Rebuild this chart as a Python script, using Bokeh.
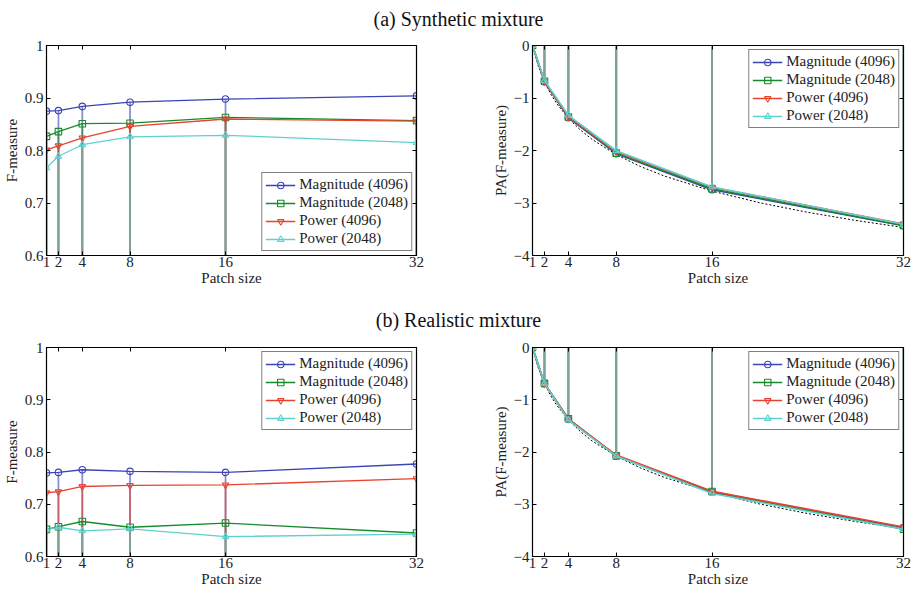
from bokeh.plotting import figure
from bokeh.layouts import column, row
from bokeh.models import (Div, FixedTicker, LinearAxis, Range1d, Legend, LegendItem)
from bokeh.embed import file_html
from bokeh.resources import INLINE

patch_sizes = [1, 2, 4, 8, 16, 32]
series_names = ["Magnitude (4096)", "Magnitude (2048)", "Power (4096)", "Power (2048)"]

# (a) Synthetic mixture
syn_f = {
    "Magnitude (4096)": [0.875, 0.876, 0.884, 0.892, 0.898, 0.904],
    "Magnitude (2048)": [0.827, 0.836, 0.851, 0.852, 0.863, 0.857],
    "Power (4096)":     [0.801, 0.809, 0.824, 0.846, 0.860, 0.856],
    "Power (2048)":     [0.767, 0.789, 0.811, 0.826, 0.829, 0.815],
}
syn_pa = {
    "Magnitude (4096)": [0.0, -0.692, -1.376, -2.060, -2.747, -3.433],
    "Magnitude (2048)": [0.0, -0.682, -1.361, -2.050, -2.730, -3.428],
    "Power (4096)":     [0.0, -0.683, -1.359, -2.025, -2.700, -3.400],
    "Power (2048)":     [0.0, -0.665, -1.330, -2.005, -2.695, -3.405],
}
# (b) Realistic mixture
real_f = {
    "Magnitude (4096)": [0.760, 0.761, 0.766, 0.763, 0.761, 0.777],
    "Magnitude (2048)": [0.652, 0.657, 0.667, 0.656, 0.664, 0.645],
    "Power (4096)":     [0.722, 0.724, 0.734, 0.736, 0.737, 0.749],
    "Power (2048)":     [0.651, 0.656, 0.649, 0.653, 0.638, 0.643],
}
real_pa = {
    "Magnitude (4096)": [0.0, -0.692, -1.378, -2.075, -2.772, -3.445],
    "Magnitude (2048)": [0.0, -0.686, -1.364, -2.075, -2.755, -3.477],
    "Power (4096)":     [0.0, -0.690, -1.370, -2.059, -2.753, -3.434],
    "Power (2048)":     [0.0, -0.686, -1.389, -2.077, -2.794, -3.477],
}
# dotted reference curve in the PA panels
ref_x = [1, 1.5, 2, 2.5, 3, 4, 5, 6, 8, 10, 12, 16, 20, 24, 28, 32]
ref_y = [0.0, -0.405, -0.693, -0.916, -1.099, -1.386, -1.609, -1.792, -2.079,
         -2.303, -2.485, -2.773, -2.996, -3.178, -3.332, -3.466]

f_ticks = [0.6, 0.7, 0.8, 0.9, 1.0]
f_labels = {0.6: "0.6", 0.7: "0.7", 0.8: "0.8", 0.9: "0.9", 1.0: "1"}
pa_ticks = [-4, -3, -2, -1, 0]
pa_labels = {-4: "\u22124", -3: "\u22123", -2: "\u22122", -1: "\u22121", 0: "0"}

colors = {
    "Magnitude (4096)": "#3b44b4",
    "Magnitude (2048)": "#178a2a",
    "Power (4096)": "#e8432e",
    "Power (2048)": "#5fd0d0",
}
markers = {
    "Magnitude (4096)": "circle",
    "Magnitude (2048)": "square",
    "Power (4096)": "inverted_triangle",
    "Power (2048)": "triangle",
}

FONT = "Liberation Serif"


def make_panel(data, yr, yticks, ylabels, ylabel, legend_loc, left_col,
               height, btop, bbot, ref=False):
    if left_col:
        w, bl, br = 458, 44, 42
    else:
        w, bl, br = 459, 74, 14
    p = figure(width=w, height=height, x_range=Range1d(1, 32), y_range=Range1d(*yr),
               output_backend="svg", toolbar_location=None,
               min_border_left=bl, min_border_right=br,
               min_border_top=btop, min_border_bottom=bbot)
    p.xgrid.visible = False
    p.ygrid.visible = False
    p.outline_line_color = "black"
    p.outline_line_width = 1.2
    p.background_fill_color = "white"

    for ax in (p.xaxis[0], p.yaxis[0]):
        ax.major_tick_in = 4
        ax.major_tick_out = 0
        ax.minor_tick_line_color = None
        ax.axis_line_color = "black"
        ax.major_tick_line_color = "black"
        ax.major_label_text_font = FONT
        ax.major_label_text_font_size = "15px"
        ax.major_label_text_color = "#222222"
        ax.axis_label_text_font = FONT
        ax.axis_label_text_font_size = "15px"
        ax.axis_label_text_font_style = "normal"
        ax.axis_label_text_color = "#222222"
    p.xaxis[0].ticker = FixedTicker(ticks=patch_sizes)
    p.xaxis[0].axis_label = "Patch size"
    p.xaxis[0].major_label_standoff = 1
    p.xaxis[0].axis_label_standoff = 0
    p.yaxis[0].ticker = FixedTicker(ticks=yticks)
    p.yaxis[0].major_label_overrides = ylabels
    p.yaxis[0].axis_label = ylabel
    p.yaxis[0].major_label_standoff = 3
    p.yaxis[0].axis_label_standoff = 2

    # mirrored tick marks on the right and top (MATLAB box style)
    for loc, ticks in (("right", yticks), ("above", patch_sizes)):
        ax = LinearAxis(ticker=FixedTicker(ticks=ticks), major_tick_in=4, major_tick_out=0,
                        minor_tick_line_color=None,
                        major_label_overrides={t: "" for t in ticks},
                        major_label_standoff=0, axis_line_color="black")
        p.add_layout(ax, loc)

    # stems (baseline 0)
    for name in series_names:
        vals = data[name]
        p.segment(x0=patch_sizes, y0=[0] * len(vals), x1=patch_sizes, y1=vals,
                  line_color=colors[name], line_alpha=0.6, line_width=1.8)

    if ref:
        p.line(ref_x, ref_y, line_color="black", line_dash="2 2", line_width=1)

    items = []
    for name in series_names:
        vals = data[name]
        lr = p.line(patch_sizes, vals, line_color=colors[name],
                    line_width=1.6 if ref else 1.3)
        sr = p.scatter(patch_sizes, vals, marker=markers[name], size=6.5,
                       line_color=colors[name], fill_color="white", fill_alpha=0,
                       line_width=1.1)
        items.append(LegendItem(label=name, renderers=[lr, sr]))

    leg = Legend(items=items, location=legend_loc,
                 border_line_color="black", border_line_width=1.5,
                 background_fill_color="white", background_fill_alpha=1,
                 label_text_font=FONT, label_text_font_size="15px",
                 label_text_color="#222222",
                 glyph_width=30, glyph_height=16, label_height=16,
                 label_standoff=4, spacing=1, padding=3, margin=4)
    p.add_layout(leg)
    return p


TOP_H, BOT_H = 270, 261
p1 = make_panel(syn_f, (0.6, 1.0), f_ticks, f_labels, "F-measure", "bottom_right",
                True, TOP_H, 15, 45)
p2 = make_panel(syn_pa, (-4, 0), pa_ticks, pa_labels, "PA(F-measure)", "top_right",
                False, TOP_H, 15, 45, ref=True)
p3 = make_panel(real_f, (0.6, 1.0), f_ticks, f_labels, "F-measure", "top_right",
                True, BOT_H, 17, 35)
p4 = make_panel(real_pa, (-4, 0), pa_ticks, pa_labels, "PA(F-measure)", "top_right",
                False, BOT_H, 17, 35, ref=True)

title_style = {"text-align": "center", "font-family": FONT, "font-size": "20px",
               "color": "#111111", "width": "917px"}
ta = Div(text="(a) Synthetic mixture", width=917, height=30, margin=0,
         styles=dict(title_style, **{"line-height": "38px"}))
tb = Div(text="(b) Realistic mixture", width=917, height=30, margin=0,
         styles=dict(title_style, **{"line-height": "40px"}))

layout = column(ta, row(p1, p2, spacing=0), tb, row(p3, p4, spacing=0), spacing=0)

open("out.html", "w").write(file_html(layout, INLINE))
